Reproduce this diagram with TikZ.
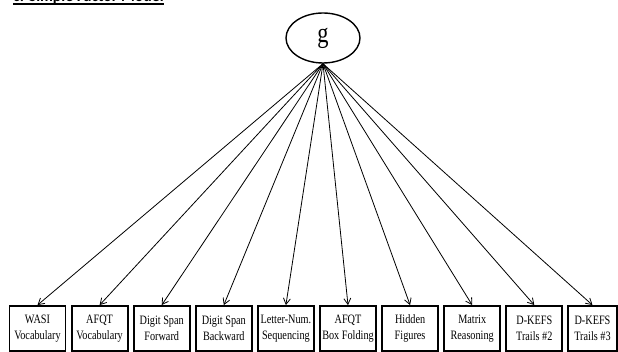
\documentclass[tikz,border=0pt]{standalone}
\usepackage{fontspec}
\setmainfont{Liberation Serif}
\newfontfamily\boxfont[FakeStretch=0.8]{Liberation Serif}
\newfontfamily\titlefont{Carlito}
\usetikzlibrary{arrows.meta,shapes.geometric}

\begin{document}
\begin{tikzpicture}[x=1pt,y=-1pt,
  measure/.style={draw, line width=1.8pt, minimum width=56pt, minimum height=45pt,
    inner sep=0pt, align=center, font=\boxfont\fontsize{12.8}{16}\selectfont},
  latent/.style={ellipse, draw, line width=1.4pt, minimum width=74pt, minimum height=50pt,
    inner sep=0pt, font=\boxfont\fontsize{28}{30}\selectfont},
  loading/.style={-{Straight Barb[length=6pt,width=7pt]}, line width=0.8pt},
  heading/.style={inner sep=0pt, anchor=base west,
    font=\titlefont\bfseries\fontsize{15.8}{18}\selectfont}]
\clip (0,0) rectangle (618,352);
\useasboundingbox (0,0) rectangle (618,352);

% panel heading
\node[heading] (title) at (13,1.5) {c. Simple Factor Model};
\draw[line width=1.3pt] ([yshift=-2.5pt]title.base west) -- ([yshift=-2.5pt]title.base east);

% general factor
\node[latent] (g) at (323,38) {g};

% observed measures
\node[measure] (v1)  at (37.5,328.5)  {WASI\\Vocabulary};
\node[measure] (v2)  at (99.6,328.5)  {AFQT\\Vocabulary};
\node[measure] (v3)  at (161.7,328.5) {Digit Span\\Forward};
\node[measure] (v4)  at (223.8,328.5) {Digit Span\\Backward};
\node[measure] (v5)  at (285.9,328.5) {Letter-Num.\\Sequencing};
\node[measure] (v6)  at (348,328.5)   {AFQT\\Box Folding};
\node[measure] (v7)  at (410.1,328.5) {Hidden\\Figures};
\node[measure] (v8)  at (472.2,328.5) {Matrix\\Reasoning};
\node[measure] (v9)  at (534.3,328.5) {D-KEFS\\Trails \#2};
\node[measure, minimum width=49pt] (v10) at (592.5,328.5) {D-KEFS\\Trails \#3};

% factor loadings
\foreach \i in {1,...,10}
  \draw[loading] (g.south) -- (v\i.north);
\end{tikzpicture}
\end{document}
